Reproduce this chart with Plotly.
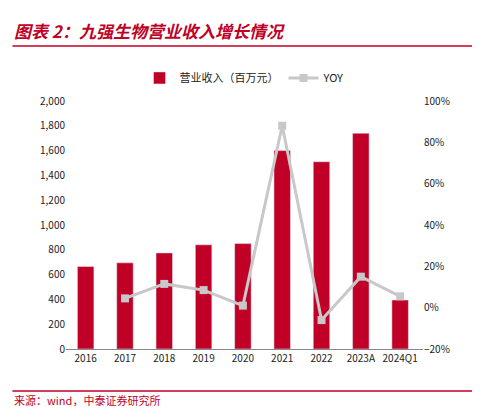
import plotly.graph_objects as go

years = ["2016","2017","2018","2019","2020","2021","2022","2023A","2024Q1"]
revenue = [665, 695, 775, 840, 850, 1600, 1510, 1740, 395]
yoy_years = ["2017","2018","2019","2020","2021","2022","2023A","2024Q1"]
yoy = [4.5, 11.5, 8.5, 1.0, 88.0, -6.0, 15.0, 5.5]

red = "#C00026"
fig = go.Figure()
fig.add_trace(go.Bar(x=years, y=revenue, name="营业收入（百万元）", marker_color=red, width=0.42))
fig.add_trace(go.Scatter(x=yoy_years, y=yoy, name="YOY", yaxis="y2", mode="lines+markers",
                         line=dict(color="#C8C8C8", width=3), marker=dict(color="#C8C8C8", size=8, symbol="square")))
fig.update_layout(
    width=480, height=413, paper_bgcolor="white", plot_bgcolor="white",
    margin=dict(l=58, r=65, t=93, b=72),
    font=dict(family="Noto Sans CJK SC", size=11, color="#222"),
    legend=dict(orientation="h", x=0.5, xanchor="center", y=1.093, yanchor="middle", font=dict(size=11)),
    xaxis=dict(type="category", showline=True, linecolor="#888", ticks="", tickfont=dict(size=10)),
    yaxis=dict(range=[0, 2000], dtick=200, tickformat=",", showgrid=False, showline=False, tickfont=dict(size=10)),
    yaxis2=dict(range=[-20, 100], dtick=20, ticksuffix="%", overlaying="y", side="right", showgrid=False, zeroline=False, tickfont=dict(size=10)),
    bargap=0.5,
    shapes=[
        dict(type="line", xref="paper", yref="paper", x0=-0.15, x1=1.154, y0=1.222, y1=1.222, line=dict(color=red, width=1.5)),
        dict(type="line", xref="paper", yref="paper", x0=-0.15, x1=1.154, y0=-0.169, y1=-0.169, line=dict(color=red, width=1.5)),
    ],
    annotations=[
        dict(text="<b><i>图表 2：九强生物营业收入增长情况</i></b>", xref="paper", yref="paper", x=-0.15, y=1.286,
             xanchor="left", yanchor="middle", showarrow=False, font=dict(size=17, color=red)),
        dict(text="来源：wind，中泰证券研究所", xref="paper", yref="paper", x=-0.15, y=-0.206,
             xanchor="left", yanchor="middle", showarrow=False, font=dict(size=11, color=red)),
    ],
)
fig.write_html("out.html")
